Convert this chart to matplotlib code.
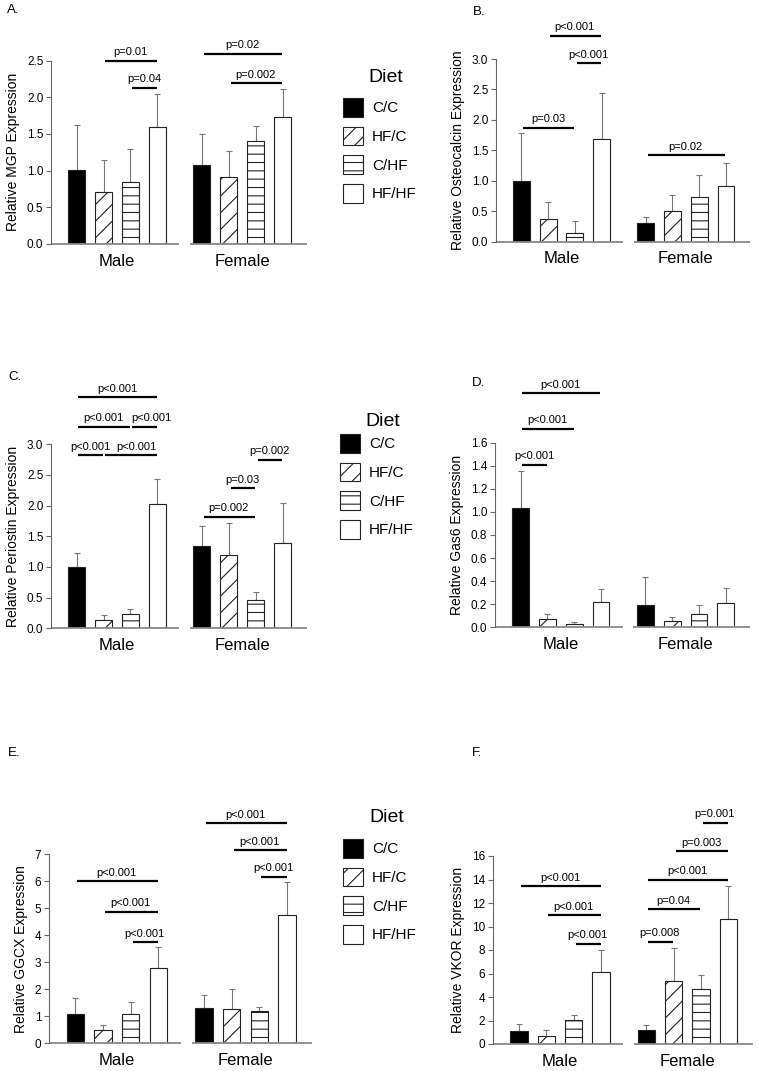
import matplotlib
matplotlib.use('Agg')
import matplotlib.pyplot as plt
import numpy as np

plt.rcParams['font.family'] = ['Liberation Sans', 'DejaVu Sans']
plt.rcParams['hatch.linewidth'] = 0.8

diets = ['C/C', 'HF/C', 'C/HF', 'HF/HF']
sexes = ['Male', 'Female']

# values: male C/C, HF/C, C/HF, HF/HF then female C/C, HF/C, C/HF, HF/HF
mgp_mean = [1.01, 0.71, 0.84, 1.59, 1.08, 0.91, 1.41, 1.73]
mgp_err = [0.61, 0.43, 0.46, 0.45, 0.42, 0.36, 0.20, 0.38]
ocn_mean = [0.99, 0.38, 0.15, 1.69, 0.30, 0.50, 0.74, 0.91]
ocn_err = [0.79, 0.28, 0.19, 0.75, 0.11, 0.26, 0.35, 0.39]
postn_mean = [1.00, 0.13, 0.24, 2.02, 1.34, 1.20, 0.46, 1.39]
postn_err = [0.22, 0.08, 0.07, 0.42, 0.32, 0.51, 0.13, 0.66]
gas6_mean = [1.03, 0.07, 0.026, 0.217, 0.197, 0.052, 0.113, 0.208]
gas6_err = [0.325, 0.043, 0.017, 0.113, 0.237, 0.035, 0.084, 0.13]
ggcx_mean = [1.09, 0.48, 1.08, 2.77, 1.29, 1.26, 1.19, 4.74]
ggcx_err = [0.57, 0.19, 0.44, 0.78, 0.48, 0.73, 0.15, 1.22]
vkor_mean = [1.08, 0.68, 2.01, 6.12, 1.16, 5.33, 4.65, 10.65]
vkor_err = [0.62, 0.54, 0.45, 1.87, 0.43, 2.86, 1.21, 2.81]

# significance brackets: (bar from, bar to, height, label)
mgp_sig = [(1, 3, 2.50, 'p=0.01'), (2, 3, 2.13, 'p=0.04'),
           (4, 7, 2.59, 'p=0.02'), (5, 7, 2.19, 'p=0.002')]
ocn_sig = [(1, 3, 3.38, 'p<0.001'), (2, 3, 2.93, 'p<0.001'),
           (0, 2, 1.87, 'p=0.03'), (4, 7, 1.42, 'p=0.02')]
postn_sig = [(0, 3, 3.77, 'p<0.001'), (0, 2, 3.29, 'p<0.001'), (2, 3, 3.29, 'p<0.001'),
             (0, 1, 2.82, 'p<0.001'), (1, 3, 2.82, 'p<0.001'),
             (4, 6, 1.82, 'p=0.002'), (5, 6, 2.28, 'p=0.03'), (6, 7, 2.75, 'p=0.002')]
gas6_sig = [(0, 3, 2.03, 'p<0.001'), (0, 2, 1.72, 'p<0.001'), (0, 1, 1.41, 'p<0.001')]
ggcx_sig = [(0, 3, 6.01, 'p<0.001'), (1, 3, 4.87, 'p<0.001'), (2, 3, 3.73, 'p<0.001'),
            (4, 7, 8.16, 'p<0.001'), (5, 7, 7.15, 'p<0.001'), (6, 7, 6.16, 'p<0.001')]
vkor_sig = [(0, 3, 13.43, 'p<0.001'), (1, 3, 10.96, 'p<0.001'), (2, 3, 8.53, 'p<0.001'),
            (4, 5, 8.70, 'p=0.008'), (4, 6, 11.47, 'p=0.04'), (4, 7, 13.99, 'p<0.001'),
            (5, 7, 16.42, 'p=0.003'), (6, 7, 18.83, 'p=0.001')]

colors = ['black', 'white', 'white', 'white']
hatches = ['', '//', '--', '']

W, H = 758, 1071
fig = plt.figure(figsize=(W / 100, H / 100), dpi=100)

x = np.concatenate([np.arange(4), np.arange(4) + 4.65])


def make_panel(box, letter, letter_xy, ylabel, ymax, step, fmt, mean, err, sig, shifts=None):
    left, right, bottom, top = box
    ax = fig.add_axes([left / W, 1 - bottom / H, (right - left) / W, (bottom - top) / H])
    bars = ax.bar(x, mean, width=0.63, color=colors * 2, hatch=hatches * 2,
                  edgecolor='#222222', linewidth=0.8, zorder=2)
    ax.errorbar(x, mean, yerr=[np.zeros(8), err], fmt='none', ecolor='#777777',
                elinewidth=0.8, capsize=2.5, capthick=0.8, zorder=1)
    ax.set_xlim(-0.95, 8.55)
    ax.set_ylim(0, ymax)
    ticks = np.arange(0, ymax + step / 2, step)
    ax.set_yticks(ticks)
    ax.set_yticklabels([fmt.format(t) for t in ticks], fontsize=8.5)
    ax.tick_params(axis='y', length=3.5, width=0.8, color='#666666', pad=2)
    ax.set_xticks([1.5, 6.15])
    ax.set_xticklabels(sexes, fontsize=12)
    ax.tick_params(axis='x', length=0, pad=7)
    ax.set_ylabel(ylabel, fontsize=10, labelpad=5)
    for s in ['top', 'right', 'bottom']:
        ax.spines[s].set_visible(False)
    ax.spines['left'].set_color('#666666')
    ax.spines['left'].set_linewidth(0.8)
    # broken x axis
    ax.hlines(0, -0.95, 3.8, color='#888888', linewidth=1.3, clip_on=False)
    ax.hlines(0, 4.2, 8.55, color='#888888', linewidth=1.3, clip_on=False)
    if shifts is None:
        shifts = [0] * len(sig)
    for (i, j, y, lab), dx in zip(sig, shifts):
        ax.plot([x[i] + 0.07, x[j] - 0.02], [y, y], color='black', linewidth=1.6,
                clip_on=False, solid_capstyle='butt')
        ax.annotate(lab, ((x[i] + x[j]) / 2, y), xytext=(dx, 2.5), textcoords='offset points',
                    ha='center', va='bottom', fontsize=8, annotation_clip=False)
    fig.text(letter_xy[0] / W, 1 - letter_xy[1] / H, letter, fontsize=9.5, va='center')
    return bars


bars = make_panel((51, 307, 244, 60.5), 'A.', (7, 10), 'Relative MGP Expression',
                  2.5, 0.5, '{:.1f}', mgp_mean, mgp_err, mgp_sig)
make_panel((496, 750, 241.7, 59), 'B.', (473, 12), 'Relative Osteocalcin Expression',
           3.0, 0.5, '{:.1f}', ocn_mean, ocn_err, ocn_sig)
make_panel((51, 307, 628.3, 444.3), 'C.', (8, 377), 'Relative Periostin Expression',
           3.0, 0.5, '{:.1f}', postn_mean, postn_err, postn_sig,
           shifts=[0, 0, 5, 0, 4, 0, 0, 0])
make_panel((495, 750, 627.3, 442.7), 'D.', (472, 383), 'Relative Gas6 Expression',
           1.6, 0.2, '{:.1f}', gas6_mean, gas6_err, gas6_sig)
make_panel((49, 312, 1043, 854.3), 'E.', (8, 753), 'Relative GGCX Expression',
           7, 1, '{:.0f}', ggcx_mean, ggcx_err, ggcx_sig)
make_panel((493, 753, 1044, 856), 'F.', (472, 753), 'Relative VKOR Expression',
           16, 2, '{:.0f}', vkor_mean, vkor_err, vkor_sig)

# legend next to each row: title drawn as text, entries as legend
handles = [bars[k] for k in range(4)]
for (tx, ty), (lx, ly) in [((368, 77), (343, 98)), ((365, 422), (340, 434)),
                           ((369, 817), (343, 839))]:
    fig.text(tx / W, 1 - ty / H, 'Diet', fontsize=14, va='center')
    fig.legend(handles, diets, loc='upper left', bbox_to_anchor=(lx / W, 1 - ly / H),
               frameon=False, fontsize=11,
               handlelength=1.3, handleheight=1.53, handletextpad=0.6,
               labelspacing=0.63, borderpad=0, borderaxespad=0)

fig.savefig('out.png', dpi=100)
